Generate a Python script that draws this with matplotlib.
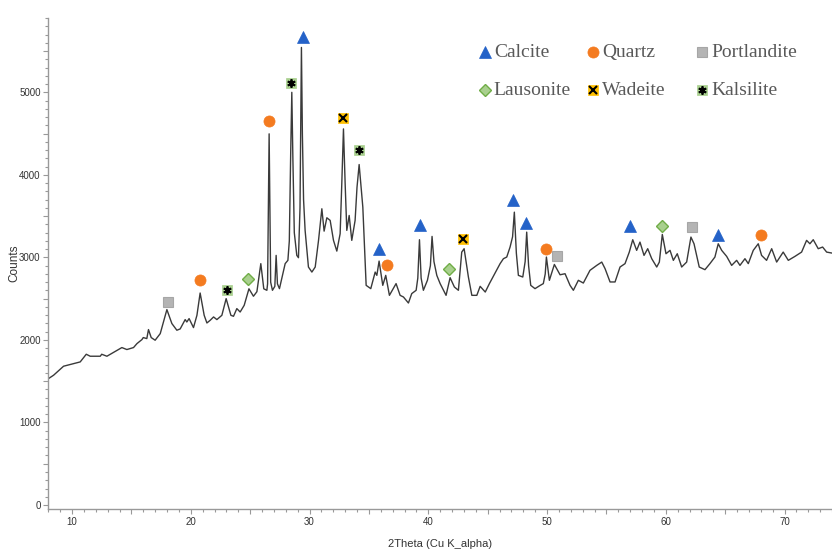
import matplotlib
matplotlib.use("Agg")
import matplotlib.pyplot as plt
from matplotlib.ticker import MultipleLocator, FuncFormatter

# XRD pattern
two_theta = [
  8.03, 8.45, 9.29, 10.13, 10.69, 11.2, 11.53, 12.38, 12.5, 12.94, 14.2, 14.62,
  15.18, 15.47, 15.89, 16.0, 16.3, 16.44, 16.67, 17.0, 17.43, 17.99, 18.41, 18.83,
  19.11, 19.53, 19.67, 19.86, 20.23, 20.52, 20.79, 21.13, 21.36, 21.64, 21.92, 22.2,
  22.62, 22.98, 23.38, 23.6, 23.88, 24.16, 24.5, 24.9, 25.28, 25.57, 25.9, 26.15,
  26.41, 26.47, 26.6, 26.73, 26.88, 27.08, 27.19, 27.3, 27.47, 27.95, 28.18, 28.3,
  28.42, 28.51, 28.6, 28.72, 28.93, 29.07, 29.2, 29.27, 29.32, 29.4, 29.5, 29.63,
  29.91, 30.2, 30.48, 30.76, 31.04, 31.23, 31.46, 31.74, 32.02, 32.3, 32.58, 32.72,
  32.86, 33.0, 33.14, 33.34, 33.56, 33.84, 34.0, 34.18, 34.49, 34.77, 35.16, 35.53,
  35.67, 35.86, 36.17, 36.42, 36.73, 37.29, 37.63, 37.91, 38.33, 38.61, 38.98, 39.12,
  39.26, 39.4, 39.59, 39.93, 40.18, 40.32, 40.48, 40.72, 41.0, 41.5, 41.84, 42.2,
  42.54, 42.82, 43.02, 43.38, 43.67, 44.09, 44.37, 44.8, 45.15, 45.63, 46.05, 46.33,
  46.61, 46.89, 47.1, 47.25, 47.42, 47.59, 47.96, 48.16, 48.29, 48.45, 48.63, 48.99,
  49.41, 49.69, 49.85, 49.95, 50.2, 50.62, 51.1, 51.52, 51.94, 52.22, 52.64, 53.06,
  53.62, 54.19, 54.61, 54.89, 55.31, 55.73, 56.15, 56.57, 56.93, 57.22, 57.55, 57.83,
  58.17, 58.48, 58.82, 59.24, 59.46, 59.71, 60.02, 60.36, 60.64, 60.97, 61.34, 61.76,
  62.12, 62.38, 62.82, 63.3, 63.72, 64.14, 64.42, 64.71, 65.13, 65.55, 65.97, 66.25,
  66.67, 66.95, 67.37, 67.79, 68.07, 68.49, 68.92, 69.34, 69.89, 70.32, 70.88, 71.44,
  71.86, 72.14, 72.42, 72.84, 73.21, 73.55, 74.0]
counts = [
  1533, 1573, 1682, 1714, 1734, 1827, 1803, 1803, 1827, 1803, 1908, 1884,
  1908, 1956, 2005, 2029, 2017, 2126, 2029, 1997, 2077, 2368, 2199, 2118,
  2134, 2247, 2218, 2259, 2150, 2299, 2569, 2299, 2206, 2239, 2279, 2247,
  2299, 2501, 2299, 2287, 2380, 2339, 2420, 2620, 2530, 2585, 2925, 2620,
  2602, 2680, 4498, 2700, 2602, 2650, 3025, 2680, 2622, 2925, 2965, 3200,
  4300, 5001, 4200, 3300, 3025, 2997, 3600, 4800, 5545, 4500, 3700, 3328,
  2884, 2823, 2884, 3207, 3590, 3319, 3481, 3449, 3207, 3077, 3288, 3900,
  4558, 3900, 3328, 3509, 3207, 3449, 3850, 4126, 3610, 2662, 2622, 2823,
  2783, 2956, 2662, 2783, 2541, 2683, 2541, 2521, 2448, 2562, 2602, 2750,
  3215, 2750, 2602, 2723, 2900, 3255, 2950, 2783, 2683, 2541, 2755, 2642,
  2602, 3065, 3106, 2763, 2541, 2541, 2650, 2581, 2683, 2811, 2925, 2985,
  3005, 3126, 3250, 3549, 3050, 2783, 2763, 2950, 3307, 2900, 2662, 2622,
  2660, 2683, 2800, 3005, 2723, 2915, 2790, 2803, 2662, 2602, 2723, 2690,
  2844, 2904, 2944, 2864, 2703, 2703, 2884, 2925, 3065, 3215, 3086, 3186,
  3025, 3106, 2985, 2884, 2944, 3279, 3045, 3086, 2965, 3045, 2884, 2944,
  3247, 3166, 2884, 2852, 2925, 3005, 3166, 3086, 3013, 2904, 2965, 2904,
  2985, 2925, 3086, 3166, 3025, 2965, 3106, 2944, 3065, 2965, 3013, 3065,
  3207, 3166, 3215, 3106, 3126, 3065, 3053]

# Phase markers (2theta, counts)
calcite_x = [29.44, 35.86, 39.31, 47.17, 48.21, 56.99, 64.42]
calcite_y = [5675, 3106, 3388, 3691, 3416, 3376, 3275]
quartz_x = [20.82, 26.63, 36.56, 49.92, 67.99]
quartz_y = [2731, 4650, 2911, 3106, 3267]
portlandite_x = [18.07, 50.85, 62.18]
portlandite_y = [2460, 3017, 3368]
lausonite_x = [24.86, 41.78, 59.71]
lausonite_y = [2740, 2864, 3380]
wadeite_x = [32.86, 42.96]
wadeite_y = [4691, 3219]
kalsilite_x = [23.04, 28.43, 34.2]
kalsilite_y = [2602, 5118, 4304]

tick_font = ["Liberation Sans Narrow", "Liberation Sans", "DejaVu Sans"]
legend_font = ["Liberation Serif", "DejaVu Serif"]

#-------------------------------------------------------------------------------

# marker styles: list of (marker, size, face, edge, edgewidth) layers
styles = {
  "Calcite": [("^", 9, "#2462c8", "#2462c8", 0.5)],
  "Quartz": [("o", 8, "#f47b20", "#f47b20", 0.5)],
  "Portlandite": [("s", 7.5, "#b4b4b4", "#a6a6a6", 0.8)],
  "Lausonite": [("D", 6.5, "#a9d08e", "#70ad47", 1.0)],
  "Wadeite": [("s", 7.5, "#ffc000", "#ffc000", 0.5), ("x", 5.5, "k", "k", 1.5)],
  "Kalsilite": [("s", 7.5, "#a9d08e", "#a9d08e", 0.5), ((6, 2, 0), 6, "k", "k", 1.3)],
}
phases = [
  ("Calcite", calcite_x, calcite_y),
  ("Quartz", quartz_x, quartz_y),
  ("Portlandite", portlandite_x, portlandite_y),
  ("Lausonite", lausonite_x, lausonite_y),
  ("Wadeite", wadeite_x, wadeite_y),
  ("Kalsilite", kalsilite_x, kalsilite_y),
]

fig = plt.figure(figsize=(8.32, 5.5), dpi=100)
ax = fig.add_axes([0.058, 0.074, 0.942, 0.893])

ax.plot(two_theta, counts, color="#3a3a3a", lw=1.0)

for name, xs, ys in phases:
  for m, ms, fc, ec, mew in styles[name]:
    ax.plot(xs, ys, ls="none", marker=m, ms=ms, mfc=fc, mec=ec, mew=mew, zorder=3)

ax.set_xlim(8, 74)
ax.set_ylim(-52, 5900)

for s in ["top", "right"]:
  ax.spines[s].set_visible(False)
for s in ["left", "bottom"]:
  ax.spines[s].set_color("#999999")
  ax.spines[s].set_linewidth(1.0)

# major ticks at 5 / 500, labels only on 10 / 1000
ax.xaxis.set_major_locator(MultipleLocator(5))
ax.xaxis.set_minor_locator(MultipleLocator(1))
ax.xaxis.set_major_formatter(FuncFormatter(lambda v, p: "{:d}".format(int(round(v))) if round(v) % 10 == 0 else ""))
ax.yaxis.set_major_locator(MultipleLocator(500))
ax.yaxis.set_minor_locator(MultipleLocator(100))
ax.yaxis.set_major_formatter(FuncFormatter(lambda v, p: "{:d}".format(int(round(v))) if round(v) % 1000 == 0 else ""))
ax.tick_params(which="major", direction="out", length=3.5, width=0.8, color="#999999",
               labelsize=7, labelcolor="#333333", pad=2)
ax.tick_params(which="minor", direction="out", length=2, width=0.8, color="#999999")
for lab in ax.get_xticklabels() + ax.get_yticklabels():
  lab.set_family(tick_font)

ax.set_xlabel("2Theta (Cu K_alpha)", family=tick_font, fontsize=8, color="#333333", labelpad=9)
ax.set_ylabel("Counts", family=tick_font, fontsize=8.5, color="#333333")
ax.yaxis.set_label_coords(-0.036, 0.5)

# legend drawn by hand, 2 rows x 3 columns
leg_cols = [0.583, 0.713, 0.844]
leg_rows = [0.905, 0.836]
for i, (name, xs, ys) in enumerate(phases):
  lx = leg_cols[i % 3]
  ly = leg_rows[i // 3]
  for m, ms, fc, ec, mew in styles[name]:
    fig.add_artist(plt.Line2D([lx], [ly], transform=fig.transFigure, ls="none", marker=m,
                              ms=ms, mfc=fc, mec=ec, mew=mew))
  fig.text(lx + 0.0105, ly, name, family=legend_font, fontsize=14, color="#595959",
           va="center", ha="left")

fig.savefig("out.png", dpi=100)
